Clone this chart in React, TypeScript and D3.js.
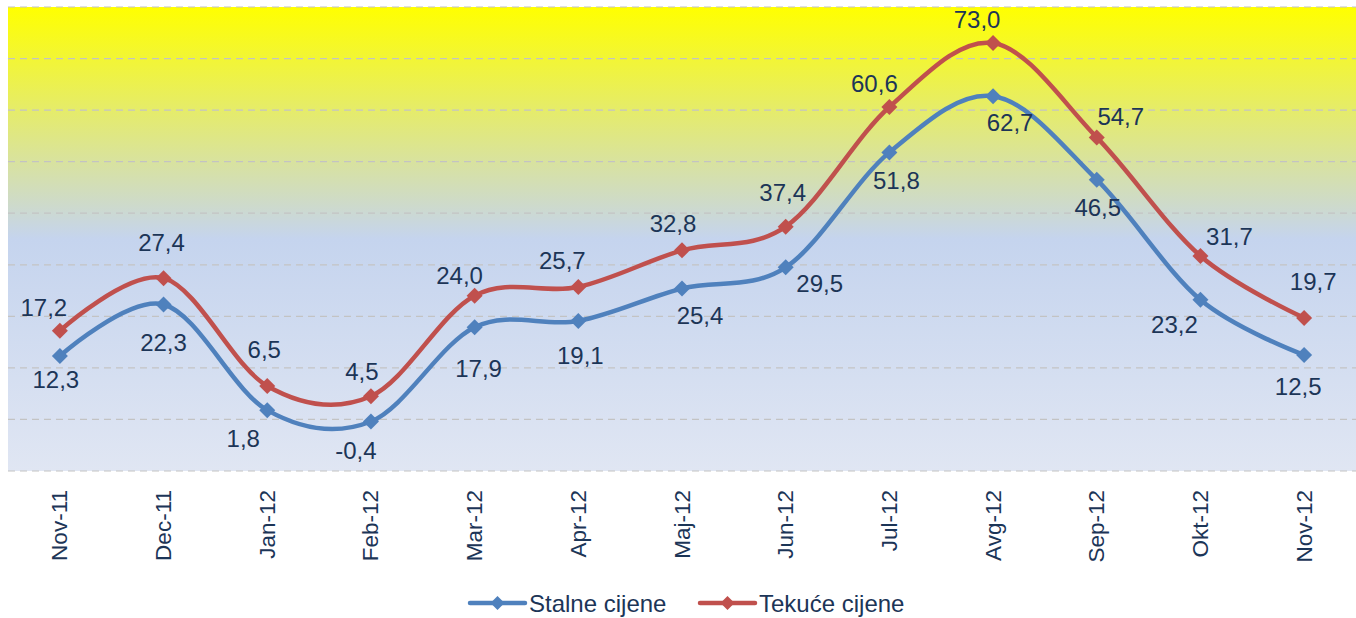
import React from "react";
import * as d3 from "d3";

const categories = ["Nov-11", "Dec-11", "Jan-12", "Feb-12", "Mar-12", "Apr-12", "Maj-12", "Jun-12", "Jul-12", "Avg-12", "Sep-12", "Okt-12", "Nov-12"];
const stalne = [12.3, 22.3, 1.8, -0.4, 17.9, 19.1, 25.4, 29.5, 51.8, 62.7, 46.5, 23.2, 12.5];
const tekuce = [17.2, 27.4, 6.5, 4.5, 24.0, 25.7, 32.8, 37.4, 60.6, 73.0, 54.7, 31.7, 19.7];
const yTicks = [-10, 0, 10, 20, 30, 40, 50, 60, 70, 80];
const seriesNames = ["Stalne cijene", "Tekuće cijene"];

// label offsets (layout only), relative to each point
const stalneLabelOffset: [number, number][] = [
  [-4, 23], [0, 38], [-24, 28], [-15, 29], [4, 41], [2, 35], [18, 27], [34, 16], [7, 28], [17, 26], [1, 28], [-26, 25], [-6, 31],
];
const tekuceLabelOffset: [number, number][] = [
  [-16, -23], [-2, -36], [-3, -36], [-9, -25], [-15, -20], [-16, -26], [-9, -27], [-3, -34], [-15, -24], [-16, -24], [24, -21], [29, -20], [9, -36],
];

const W = 1356;
const H = 618;
const plotLeft = 8;
const plotRight = 1356;
const plotTop = 7;
const plotBottom = 471;
const legendY = 603;
const BLUE = "#4f81bd";
const RED = "#c0504d";
const TEXT = "#1c3557";
const FONT = "'Liberation Sans', Arial, sans-serif";

export default function App() {
  const x = d3.scaleBand<string>().domain(categories).range([plotLeft, plotRight]);
  const y = d3.scaleLinear().domain([-10, 80]).range([plotBottom, plotTop]);
  const cx = (c: string) => (x(c) as number) + x.bandwidth() / 2;
  const line = d3
    .line<number>()
    .x((_, i) => cx(categories[i]))
    .y((v) => y(v))
    .curve(d3.curveCatmullRom.alpha(0));

  const diamond = (px: number, py: number, r: number) =>
    `M${px},${py - r}L${px + r},${py}L${px},${py + r}L${px - r},${py}Z`;

  const series = [
    { name: seriesNames[0], values: stalne, color: BLUE, offsets: stalneLabelOffset },
    { name: seriesNames[1], values: tekuce, color: RED, offsets: tekuceLabelOffset },
  ];

  const fmt = (v: number) => v.toFixed(1).replace(".", ",");

  const legendItems = [
    { name: seriesNames[0], color: BLUE, x0: 470 },
    { name: seriesNames[1], color: RED, x0: 700 },
  ];

  return (
    <div style={{ position: "absolute", left: 0, top: 0 }}>
      <svg width={W} height={H} style={{ display: "block", background: "#fff" }}>
        <defs>
          <linearGradient id="bg" x1="0" y1="0" x2="0" y2="1">
            <stop offset="0" stopColor="#ffff00" />
            <stop offset="0.5" stopColor="#c5d4ee" />
            <stop offset="1" stopColor="#e0e6f3" />
          </linearGradient>
        </defs>
        <rect x={plotLeft} y={plotTop} width={plotRight - plotLeft} height={plotBottom - plotTop} fill="url(#bg)" />
        {yTicks.map((t) => (
          <line
            key={t}
            x1={plotLeft}
            x2={plotRight}
            y1={y(t)}
            y2={y(t)}
            stroke="#c3c3c3"
            strokeWidth={1.2}
            strokeDasharray="7,5"
          />
        ))}
        {series.map((s) => (
          <g key={s.name}>
            <path d={line(s.values) || ""} fill="none" stroke={s.color} strokeWidth={4.5} strokeLinejoin="round" />
            {s.values.map((v, i) => (
              <path key={i} d={diamond(cx(categories[i]), y(v), 8)} fill={s.color} />
            ))}
          </g>
        ))}
        {series.map((s) =>
          s.values.map((v, i) => (
            <text
              key={s.name + i}
              x={cx(categories[i]) + s.offsets[i][0]}
              y={y(v) + s.offsets[i][1]}
              textAnchor="middle"
              dominantBaseline="central"
              fontFamily={FONT}
              fontSize={24}
              fill={TEXT}
            >
              {fmt(v)}
            </text>
          ))
        )}
        {categories.map((c) => (
          <text
            key={c}
            transform={`translate(${cx(c)},${plotBottom + 19}) rotate(-90)`}
            textAnchor="end"
            dominantBaseline="central"
            fontFamily={FONT}
            fontSize={22.5}
            fill={TEXT}
          >
            {c}
          </text>
        ))}
        {legendItems.map((it) => (
          <g key={it.name}>
            <line x1={it.x0} x2={it.x0 + 55} y1={legendY} y2={legendY} stroke={it.color} strokeWidth={4.5} strokeLinecap="round" />
            <path d={diamond(it.x0 + 27.5, legendY, 7)} fill={it.color} />
            <text x={it.x0 + 59} y={legendY} dominantBaseline="central" fontFamily={FONT} fontSize={24} fill={TEXT}>
              {it.name}
            </text>
          </g>
        ))}
      </svg>
    </div>
  );
}
